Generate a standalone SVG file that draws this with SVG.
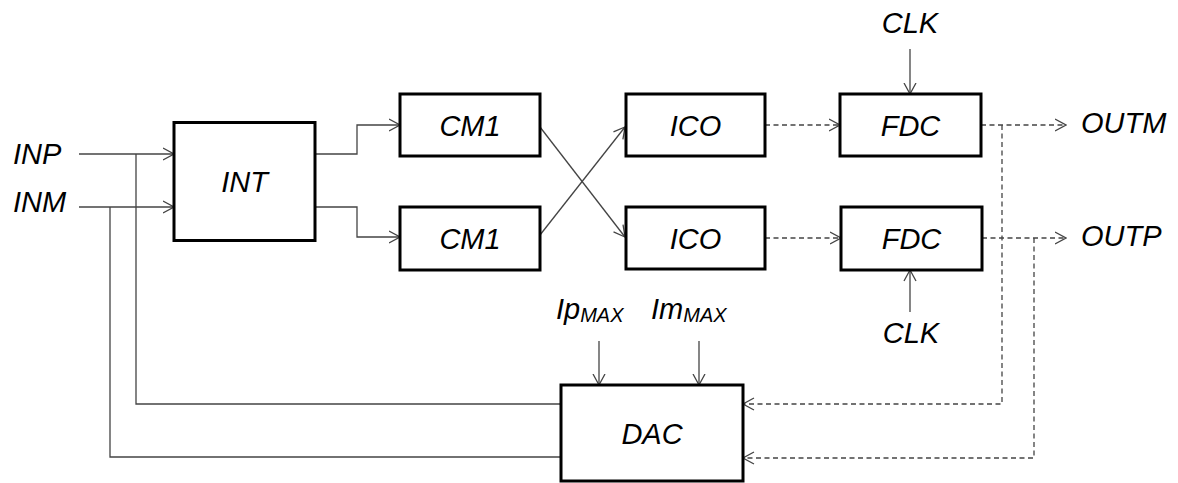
<svg xmlns="http://www.w3.org/2000/svg" width="1178" height="483" viewBox="0 0 1178 483">
<style>
.box{fill:#fff;stroke:#000;stroke-width:3}
.lbl{font-family:"Liberation Sans",Arial,sans-serif;font-style:italic;font-size:29px;fill:#000}
.ctr{text-anchor:middle}
.sub{font-size:20px}
.w{fill:none;stroke:#444;stroke-width:1.3}
.d{fill:none;stroke:#444;stroke-width:1.3;stroke-dasharray:5 3.5}
</style>
<defs>
<marker id="ah" viewBox="0 0 12 14" refX="11.5" refY="7" markerWidth="12" markerHeight="14" markerUnits="userSpaceOnUse" orient="auto">
<path d="M0.5,1 L11.5,7 L0.5,13" fill="none" stroke="#444" stroke-width="1.3"/>
</marker>
</defs>
<rect width="1178" height="483" fill="#fff"/>
<g id="connectors">
<path class="w" d="M79,154 H174" marker-end="url(#ah)"/>
<path class="w" d="M136,154 V404 H561"/>
<path class="w" d="M79,207 H174" marker-end="url(#ah)"/>
<path class="w" d="M110,207 V457 H561"/>
<path class="w" d="M315,154 H357 V125 H400" marker-end="url(#ah)"/>
<path class="w" d="M315,207 H357 V237 H400" marker-end="url(#ah)"/>
<path class="w" d="M540,127 L625,237" marker-end="url(#ah)"/>
<path class="w" d="M540,235 L625,127" marker-end="url(#ah)"/>
<path class="d" d="M765,125 H840" marker-end="url(#ah)"/>
<path class="d" d="M765,238 H841" marker-end="url(#ah)"/>
<path class="w" d="M910,49 V94" marker-end="url(#ah)"/>
<path class="w" d="M910,312 V270" marker-end="url(#ah)"/>
<path class="d" d="M981,125 H1066" marker-end="url(#ah)"/>
<path class="d" d="M1002,125 V404 H743" marker-end="url(#ah)"/>
<path class="d" d="M982,238 H1066" marker-end="url(#ah)"/>
<path class="d" d="M1034,238 V458 H743" marker-end="url(#ah)"/>
<path class="w" d="M599,341 V385" marker-end="url(#ah)"/>
<path class="w" d="M699,341 V385" marker-end="url(#ah)"/>
</g>
<g id="INT"><rect class="box" x="174" y="122.5" width="141" height="118"/><text class="lbl ctr" x="244.5" y="192">INT</text></g>
<g id="CM1a"><rect class="box" x="400" y="94" width="140" height="62"/><text class="lbl ctr" x="470" y="135.5">CM1</text></g>
<g id="CM1b"><rect class="box" x="400" y="207" width="140" height="63"/><text class="lbl ctr" x="470" y="248.5">CM1</text></g>
<g id="ICOa"><rect class="box" x="626" y="94" width="139" height="62"/><text class="lbl ctr" x="695.5" y="135.5">ICO</text></g>
<g id="ICOb"><rect class="box" x="626" y="207" width="139" height="62"/><text class="lbl ctr" x="695.5" y="248.5">ICO</text></g>
<g id="FDCa"><rect class="box" x="840" y="94" width="141" height="62"/><text class="lbl ctr" x="910.5" y="135.5">FDC</text></g>
<g id="FDCb"><rect class="box" x="841" y="207" width="141" height="63"/><text class="lbl ctr" x="911.5" y="248.5">FDC</text></g>
<g id="DAC"><rect class="box" x="561" y="385" width="182" height="96"/><text class="lbl ctr" x="652" y="444">DAC</text></g>
<g id="labels">
<text class="lbl" x="13" y="164">INP</text>
<text class="lbl" x="13" y="212">INM</text>
<text class="lbl ctr" x="910" y="33">CLK</text>
<text class="lbl ctr" x="911" y="343">CLK</text>
<text class="lbl" x="1081" y="133">OUTM</text>
<text class="lbl" x="1081" y="246">OUTP</text>
<text class="lbl" x="556" y="319">Ip<tspan class="sub" dy="3">MAX</tspan></text>
<text class="lbl" x="651" y="319">Im<tspan class="sub" dy="3">MAX</tspan></text>
</g>
</svg>
